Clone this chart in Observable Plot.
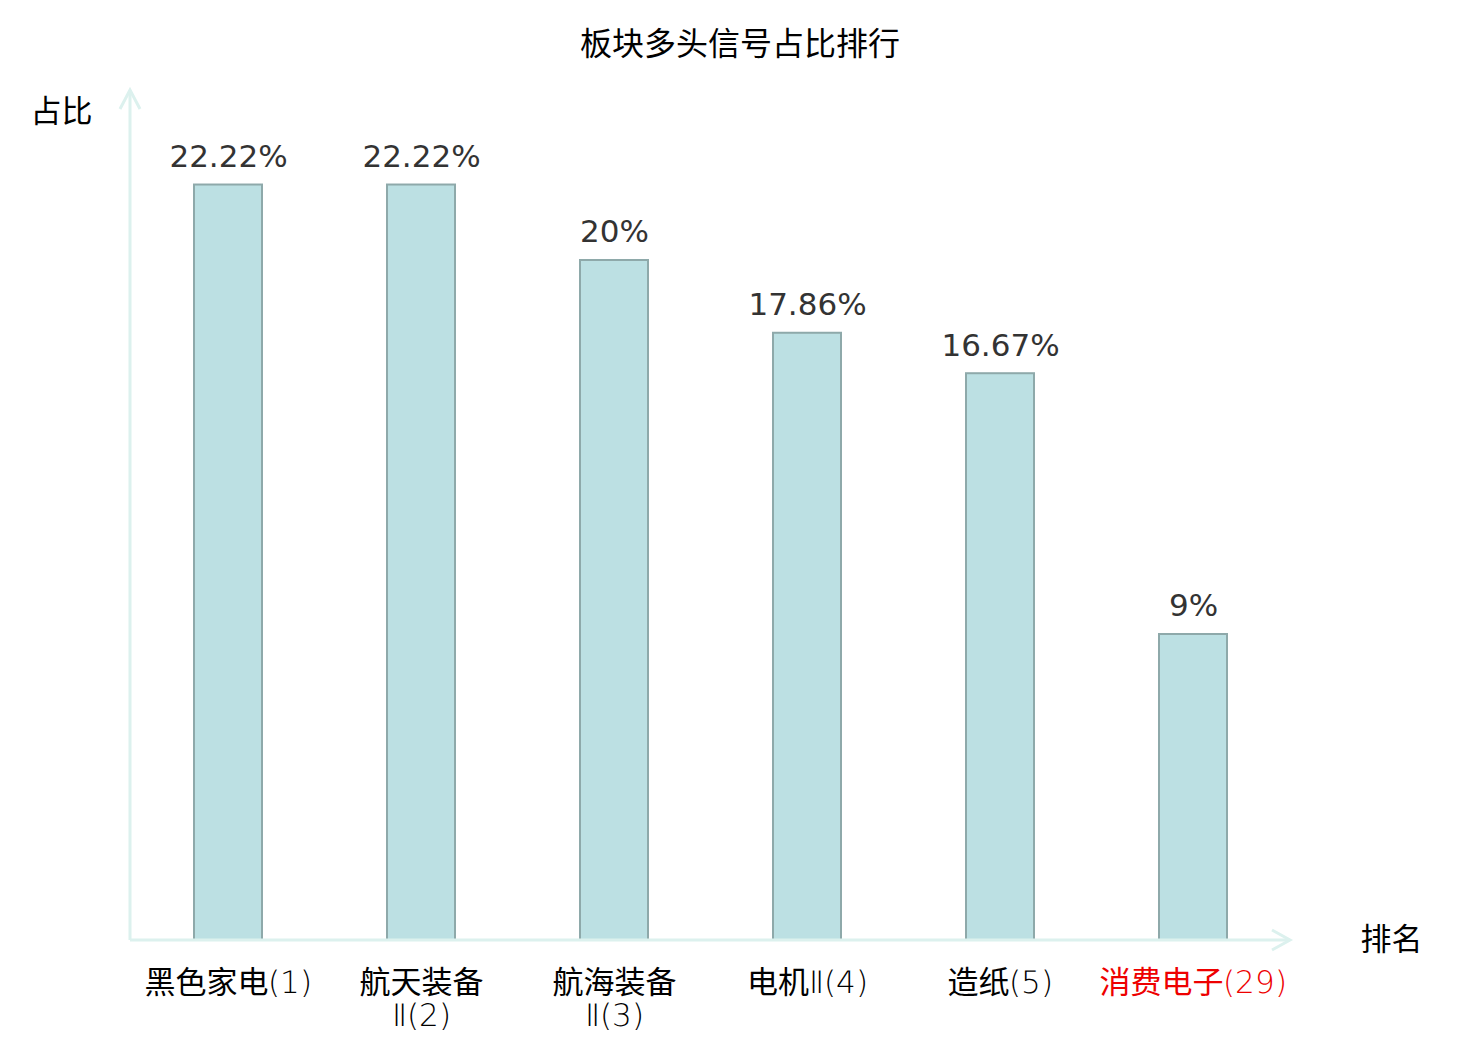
<!DOCTYPE html>
<html>
<head>
<meta charset="utf-8">
<script src="https://cdn.jsdelivr.net/npm/d3@7"></script>
<script src="https://cdn.jsdelivr.net/npm/@observablehq/plot@0.6"></script>
<style>
  @font-face {
    font-family: "TickLatin";
    src: local("DejaVu Sans ExtraLight"), local("DejaVuSans-ExtraLight");
    unicode-range: U+0000-00FF, U+2160-2188;
  }
  body { margin: 0; background: #fff; }
  #title { height: 80px; line-height: 82px; text-align: center; font-family: "Noto Sans CJK SC", sans-serif; font-size: 32px; color: #000; }
  #chart svg { display: block; }
  .ticklab text { font-family: "TickLatin", "Noto Sans CJK SC", sans-serif; font-weight: 400; }
</style>
</head>
<body>
<div id="title">板块多头信号占比排行</div>
<div id="chart"></div>
<script>
const categories = ["黑色家电(1)", "航天装备Ⅱ(2)", "航海装备Ⅱ(3)", "电机Ⅱ(4)", "造纸(5)", "消费电子(29)"];
const tickLabels = ["黑色家电(1)", "航天装备\nⅡ(2)", "航海装备\nⅡ(3)", "电机Ⅱ(4)", "造纸(5)", "消费电子(29)"];
const values = [22.22, 22.22, 20, 17.86, 16.67, 9];
const valueLabels = ["22.22%", "22.22%", "20%", "17.86%", "16.67%", "9%"];
const highlighted = [false, false, false, false, false, true];

const data = categories.map((c, i) => ({
  category: c, value: values[i], label: valueLabels[i], tick: tickLabels[i], hi: highlighted[i]
}));

const axisColor = "#dcf1ee";

function axes(index, scales, values, dim) {
  const ns = "http://www.w3.org/2000/svg";
  const g = document.createElementNS(ns, "g");
  const x0 = dim.marginLeft;
  const x1 = dim.width - dim.marginRight;
  const y0 = scales.y(0);
  const yTop = scales.y(25);
  const paths = [
    `M${x0},${y0}L${x0},${yTop}`,
    `M${x0 - 10},${yTop + 19}L${x0},${yTop}L${x0 + 10},${yTop + 19}`,
    `M${x0},${y0}L${x1},${y0}`,
    `M${x1 - 18},${y0 - 10}L${x1},${y0}L${x1 - 18},${y0 + 10}`
  ];
  for (const d of paths) {
    const p = document.createElementNS(ns, "path");
    p.setAttribute("d", d);
    p.setAttribute("fill", "none");
    p.setAttribute("stroke", axisColor);
    p.setAttribute("stroke-width", 3);
    g.appendChild(p);
  }
  return g;
}

const chart = Plot.plot({
  width: 1480,
  height: 960,
  marginLeft: 130,
  marginRight: 190,
  marginTop: 10,
  marginBottom: 100,
  x: { domain: categories, paddingInner: 0.65, paddingOuter: 0.325, axis: null },
  y: { domain: [0, 25], axis: null },
  style: { background: "#fff", overflow: "visible" },
  marks: [
    Plot.barY(data, { x: "category", y: "value", fill: "#bce0e3", stroke: "#8ea9aa", strokeWidth: 2 }),
    axes,
    Plot.text(data, { x: "category", y: "value", text: "label", dy: -28, fontSize: 31, fill: "#333", fontFamily: "DejaVu Sans, Noto Sans CJK SC, sans-serif" }),
    Plot.text(data, { x: "category", text: "tick", frameAnchor: "bottom", lineAnchor: "top", dy: 29, fontSize: 31, lineHeight: 1.06, fill: d => d.hi ? "#ee0000" : "#000", className: "ticklab" }),
    Plot.text(["占比"], { frameAnchor: "top-left", dx: -38, dy: 9, textAnchor: "end", text: d => d, fontSize: 31, fill: "#000", fontFamily: "Noto Sans CJK SC, sans-serif" }),
    Plot.text(["排名"], { frameAnchor: "bottom-right", dx: 132, dy: 0, lineAnchor: "middle", text: d => d, fontSize: 31, fill: "#000", fontFamily: "Noto Sans CJK SC, sans-serif" })
  ]
});
document.getElementById("chart").appendChild(chart);
</script>
</body>
</html>
